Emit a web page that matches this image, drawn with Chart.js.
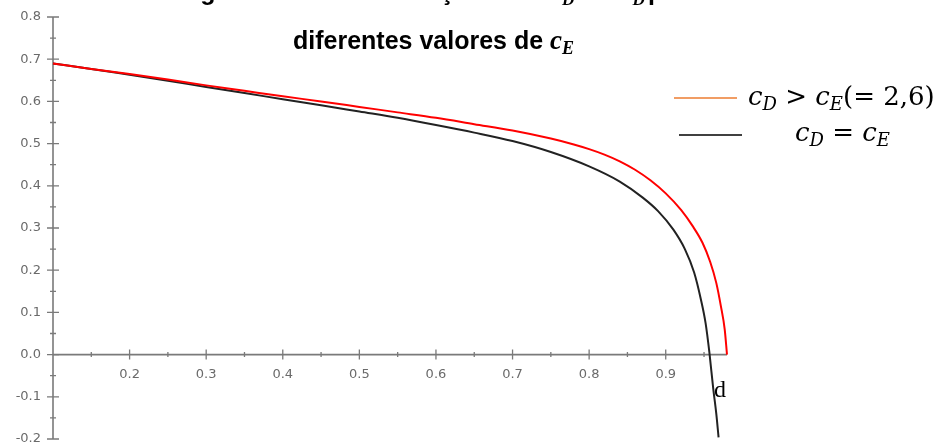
<html>
  <head>
    <script src="https://cdn.jsdelivr.net/npm/chart.js@4"></script>
    <title>cD_cE_chart</title>
  </head>
  <body style="margin:0;background:#fff;">
<canvas id="myChart" width="941" height="448"></canvas>

    <script>
// curva vermelha: cD > cE (= 2,6)
const xRed = [0.1, 0.15, 0.2, 0.25, 0.3, 0.35, 0.4, 0.45, 0.5, 0.55, 0.6, 0.65, 0.7, 0.75, 0.78, 0.8, 0.82, 0.84, 0.86, 0.88, 0.9, 0.92, 0.935, 0.948, 0.958, 0.966, 0.972, 0.977, 0.98];
const yRed = [0.690, 0.677, 0.665, 0.652, 0.638, 0.625, 0.612, 0.600, 0.587, 0.574, 0.561, 0.546, 0.531, 0.512, 0.498, 0.487, 0.474, 0.458, 0.438, 0.413, 0.382, 0.343, 0.305, 0.265, 0.220, 0.170, 0.115, 0.060, 0.0];
// curva preta: cD = cE
const xBlack = [0.1, 0.15, 0.2, 0.25, 0.3, 0.35, 0.4, 0.45, 0.5, 0.55, 0.6, 0.65, 0.7, 0.75, 0.8, 0.84, 0.87, 0.89, 0.91, 0.925, 0.937, 0.946, 0.952, 0.957, 0.962, 0.966, 0.969];
const yBlack = [0.690, 0.677, 0.663, 0.649, 0.634, 0.620, 0.605, 0.591, 0.576, 0.561, 0.544, 0.526, 0.506, 0.480, 0.446, 0.410, 0.372, 0.340, 0.296, 0.250, 0.195, 0.130, 0.075, 0.005, -0.080, -0.140, -0.196];

const xTicks = [0.2, 0.3, 0.4, 0.5, 0.6, 0.7, 0.8, 0.9];
const yTicks = [-0.2, -0.1, 0.0, 0.1, 0.2, 0.3, 0.4, 0.5, 0.6, 0.7, 0.8];
const xMinor = [0.15, 0.25, 0.35, 0.45, 0.55, 0.65, 0.75, 0.85, 0.95];
const yMinor = [-0.15, -0.05, 0.05, 0.15, 0.25, 0.35, 0.45, 0.55, 0.65, 0.75];

const serieNomes = ['cD > cE(= 2,6)', 'cD = cE'];

function toPoints(xs, ys) {
  return xs.map((x, i) => ({ x: x, y: ys[i] }));
}

// texto com partes (italico, subscrito)
function drawRich(ctx, parts, x, y) {
  for (const p of parts) {
    ctx.font = p.f;
    ctx.fillText(p.t, x, y + (p.dy || 0));
    x += ctx.measureText(p.t).width;
  }
  return x;
}

const MI = 'italic 26px "DejaVu Serif"';
const MS = 'italic 18px "DejaVu Serif"';
const MR = '26px "DejaVu Serif"';

const eixos = {
  id: 'eixos',
  beforeDatasetsDraw(chart) {
    const ctx = chart.ctx;
    const xs = chart.scales.x, ys = chart.scales.y;
    const x0 = xs.getPixelForValue(xs.min);
    const y0 = ys.getPixelForValue(0);
    ctx.save();
    ctx.strokeStyle = '#7a7a7a';
    ctx.lineWidth = 1.6;
    ctx.beginPath();
    ctx.moveTo(x0, ys.getPixelForValue(ys.max));
    ctx.lineTo(x0, ys.getPixelForValue(ys.min));
    ctx.moveTo(x0, y0);
    ctx.lineTo(xs.getPixelForValue(xs.max), y0);
    ctx.stroke();
    ctx.lineWidth = 1.3;
    ctx.beginPath();
    yTicks.forEach(v => { const p = ys.getPixelForValue(v); ctx.moveTo(x0 - 6, p); ctx.lineTo(x0 + 6, p); });
    yMinor.forEach(v => { const p = ys.getPixelForValue(v); ctx.moveTo(x0 - 3, p); ctx.lineTo(x0 + 3, p); });
    xTicks.forEach(v => { const p = xs.getPixelForValue(v); ctx.moveTo(p, y0 - 5); ctx.lineTo(p, y0 + 5); });
    xMinor.forEach(v => { const p = xs.getPixelForValue(v); ctx.moveTo(p, y0 - 2.5); ctx.lineTo(p, y0 + 2.5); });
    ctx.stroke();
    ctx.fillStyle = '#6a6a6a';
    ctx.font = '13px "DejaVu Sans"';
    ctx.textAlign = 'right';
    ctx.textBaseline = 'middle';
    yTicks.forEach(v => ctx.fillText(v.toFixed(1), x0 - 12, ys.getPixelForValue(v)));
    ctx.textAlign = 'center';
    xTicks.forEach(v => ctx.fillText(v.toFixed(1), xs.getPixelForValue(v), y0 + 20));
    ctx.restore();
  },
  afterDraw(chart) {
    const ctx = chart.ctx;
    ctx.save();
    ctx.fillStyle = '#000';
    ctx.textBaseline = 'alphabetic';
    ctx.textAlign = 'left';
    // titulo (primeira linha cortada no topo)
    const TB = 'bold 25px "Liberation Sans"';
    ctx.font = TB;
    ctx.fillText('Figura', 178, 0);
    ctx.fillText('Variação', 440 - ctx.measureText('Varia').width, 0);
    drawRich(ctx, [{ t: 'c', f: 'bold italic 25px "Liberation Serif"' }, { t: 'D', f: 'bold italic 17px "Liberation Serif"', dy: 5 }], 551, 0);
    drawRich(ctx, [{ t: ' e ', f: TB }], 574, 0);
    drawRich(ctx, [{ t: 'x', f: 'bold italic 25px "Liberation Serif"' }, { t: 'D', f: 'bold italic 17px "Liberation Serif"', dy: 5 }], 620, 0);
    ctx.font = TB;
    ctx.fillText('para', 648, 0);
    drawRich(ctx, [
      { t: 'diferentes valores de ', f: TB },
      { t: 'c', f: 'bold italic 27px "Liberation Serif"' },
      { t: 'E', f: 'bold italic 18px "Liberation Serif"', dy: 5 }
    ], 293, 49);

    // legenda
    ctx.lineWidth = 1.6;
    ctx.strokeStyle = '#ed7d31';
    ctx.beginPath(); ctx.moveTo(674, 98); ctx.lineTo(737, 98); ctx.stroke();
    ctx.strokeStyle = '#000';
    ctx.beginPath(); ctx.moveTo(679, 135); ctx.lineTo(742, 135); ctx.stroke();
    drawRich(ctx, [
      { t: 'c', f: MI }, { t: 'D', f: MS, dy: 5 }, { t: ' > ', f: MR },
      { t: 'c', f: MI }, { t: 'E', f: MS, dy: 5 }, { t: '(= 2,6)', f: MR }
    ], 748, 105);
    drawRich(ctx, [
      { t: 'c', f: MI }, { t: 'D', f: MS, dy: 5 }, { t: ' = ', f: MR },
      { t: 'c', f: MI }, { t: 'E', f: MS, dy: 5 }
    ], 795, 141);

    // rotulo "d" junto da curva preta
    ctx.font = '24px "Liberation Serif"';
    ctx.fillText('d', 714, 397);
    ctx.restore();
  }
};

var canvas = document.getElementById("myChart");
var myChart = new Chart(canvas, {
  type: 'scatter',
  data: {
    datasets: [
      {
        label: serieNomes[0],
        data: toPoints(xRed, yRed),
        showLine: true,
        borderColor: '#ff0000',
        borderWidth: 2,
        pointRadius: 0,
        cubicInterpolationMode: 'monotone',
        clip: false
      },
      {
        label: serieNomes[1],
        data: toPoints(xBlack, yBlack),
        showLine: true,
        borderColor: '#222222',
        borderWidth: 2,
        pointRadius: 0,
        cubicInterpolationMode: 'monotone',
        clip: false
      }
    ]
  },
  options: {
    responsive: false,
    animation: false,
    layout: { padding: { left: 53, right: 214, top: 17, bottom: 9 } },
    plugins: {
      legend: { display: false },
      tooltip: { enabled: false }
    },
    scales: {
      x: { type: 'linear', min: 0.1, max: 0.98, display: false },
      y: { type: 'linear', min: -0.2, max: 0.8, display: false }
    }
  },
  plugins: [eixos]
});
    </script>
  </body>
</html>
